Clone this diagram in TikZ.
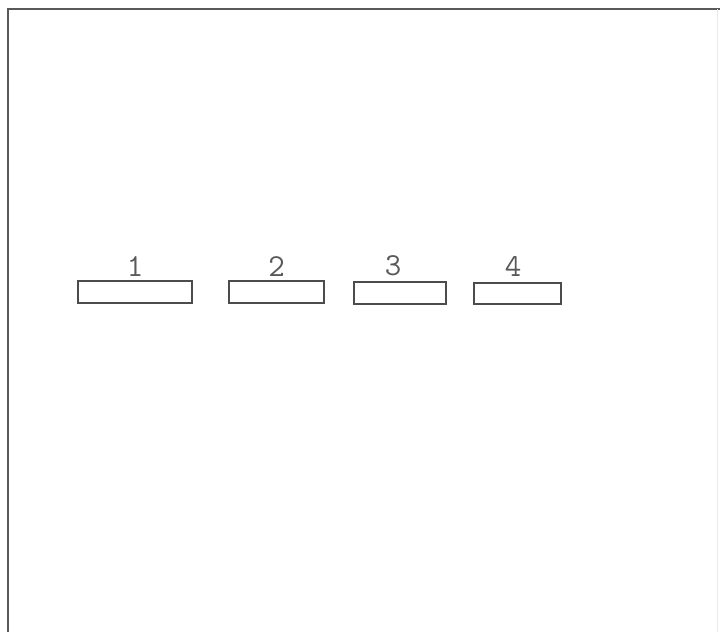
\documentclass[tikz,border=0pt]{standalone}
\usetikzlibrary{positioning}

\begin{document}
\begin{tikzpicture}[x=1pt, y=-1pt,
  slot/.style={draw=black!70, line width=1.3pt, minimum height=22pt, inner sep=0pt},
  tag/.style={font=\fontsize{32}{32}\selectfont\ttfamily, text=black!65, inner sep=0pt}]
  \useasboundingbox (0,0) rectangle (720,632);
  % frame
  \draw[black!65, line width=1.8pt] (8,632) -- (8,9) -- (720,9);
  \draw[black!8, line width=0.8pt] (717,9) -- (717,632);
  % slots
  \node[slot, minimum width=114pt] (b1) at (135,292) {};
  \node[slot, minimum width=95pt] (b2) at (276.5,292) {};
  \node[slot, minimum width=92pt] (b3) at (400,293) {};
  \node[slot, minimum width=87pt, minimum height=21pt] (b4) at (517.5,293.5) {};
  \node[tag, above=4pt of b1] (t1) {1};
  \node[tag, above=4pt of b2] (t2) {2};
  \node[tag, above=5pt of b3, xshift=-7pt] (t3) {3};
  \node[tag, above=6pt of b4, xshift=-4.5pt] (t4) {4};
\end{tikzpicture}
\end{document}
